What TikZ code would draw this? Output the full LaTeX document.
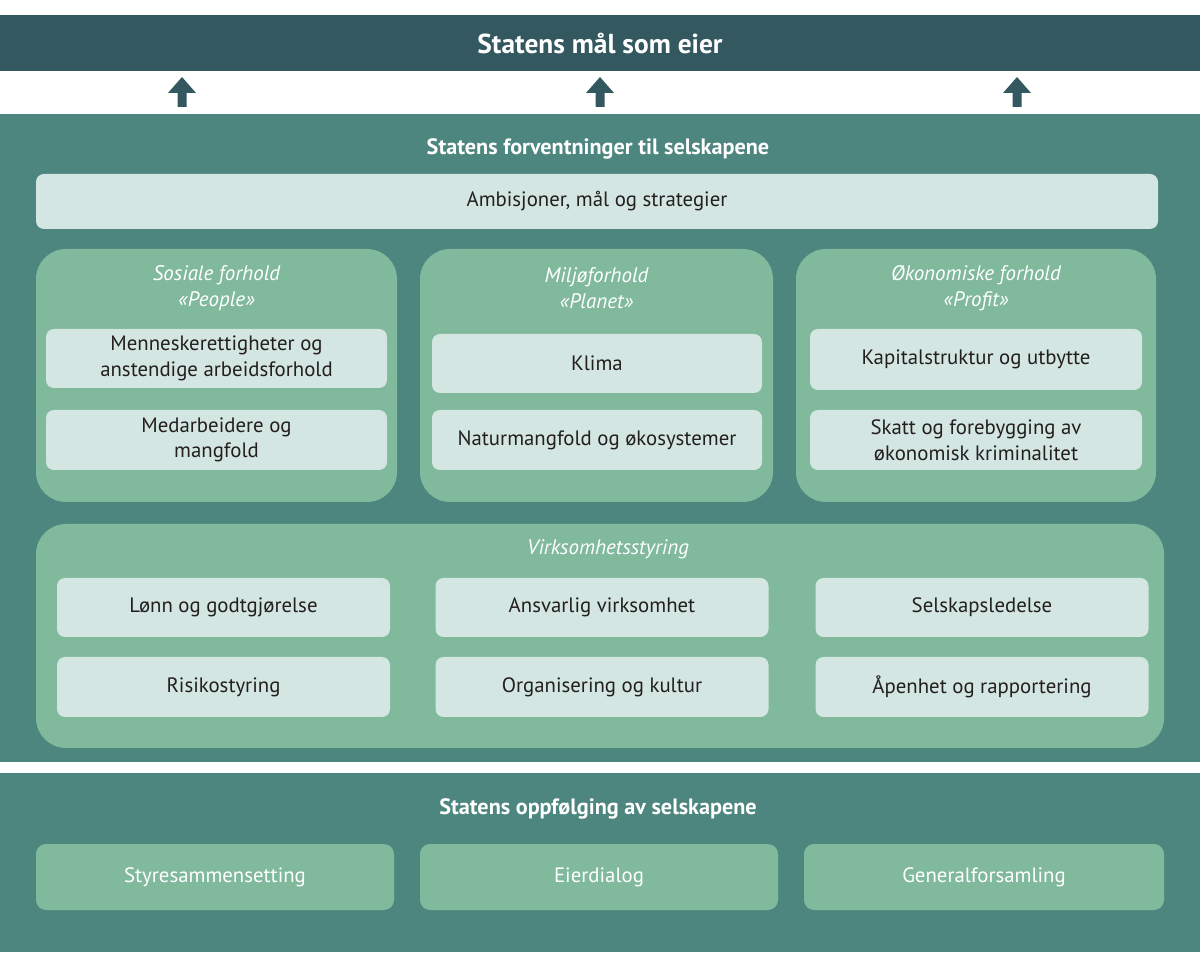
\documentclass[tikz,border=0pt]{standalone}
\usepackage{fontspec}
\setmainfont{PT Sans}

\newlength{\du}
\setlength{\du}{0.5pt}

\definecolor{barcolor}{HTML}{33585F}
\definecolor{panelcolor}{HTML}{4C867F}
\definecolor{greencolor}{HTML}{80B99C}
\definecolor{palecolor}{HTML}{D4E6E1}
\definecolor{inkcolor}{HTML}{231F20}

\tikzset{
  bodytext/.style={font=\fontsize{10.4}{12.8}\selectfont},
  panel/.style={fill=panelcolor, inner sep=0pt},
  palebox/.style={bodytext, fill=palecolor, text=inkcolor, rounded corners=8\du, align=center, inner sep=0pt},
  groupbox/.style={fill=greencolor, rounded corners=30\du, inner sep=0pt},
  followbox/.style={bodytext, fill=greencolor, text=white, rounded corners=10\du, align=center, inner sep=0pt},
  heading/.style={font=\fontsize{11.1}{13}\selectfont\bfseries, text=white},
  grouptitle/.style={font=\fontsize{10.5}{13}\selectfont\itshape, text=white, align=center, inner sep=0pt},
}

\begin{document}
\begin{tikzpicture}[yscale=-1]
\useasboundingbox (0,0) rectangle (1200\du,967\du);
\fill[white] (0,0) rectangle (1200\du,967\du);

% top bar and arrows
\node[fill=barcolor, text=white, font=\fontsize{13.7}{16}\selectfont\bfseries, minimum width=1200\du, minimum height=55\du, inner sep=0pt] (maal) at (600\du,43.5\du) {Statens mål som eier};
\fill[barcolor] (0,15\du) rectangle (1200\du,20\du);
\foreach \x in {182,600,1017}
  \fill[barcolor] ({\x\du-14\du},93\du) -- (\x\du,77\du) -- ({\x\du+14\du},93\du) -- ({\x\du+4.5\du},93\du) -- ({\x\du+4.5\du},107\du) -- ({\x\du-4.5\du},107\du) -- ({\x\du-4.5\du},93\du) -- cycle;

% expectations
\node[panel, minimum width=1200\du, minimum height=648\du] (forventninger) at (600\du,438\du) {};
\node[heading] (forvtittel) at (598\du,149\du) {Statens forventninger til selskapene};
\node[palebox, minimum width=1122\du, minimum height=55\du] (ambisjoner) at (597\du,201.5\du) {Ambisjoner, mål og strategier};

% people
\node[groupbox, minimum width=361\du, minimum height=253\du] (sosiale) at (216.5\du,375.5\du) {};
\node[grouptitle] (sosialetittel) at (216.5\du,288\du) {Sosiale forhold\\«People»};
\node[palebox, minimum width=341\du, minimum height=59\du] (menneske) at (216.5\du,358.5\du) {Menneskerettigheter og\\anstendige arbeidsforhold};
\node[palebox, minimum width=341\du, minimum height=60\du] (medarbeidere) at (216.5\du,440\du) {Medarbeidere og\\mangfold};

% planet
\node[groupbox, minimum width=353\du, minimum height=253\du] (miljo) at (596.5\du,375.5\du) {};
\node[grouptitle] (miljotittel) at (596.5\du,288\du) {Miljøforhold\\«Planet»};
\node[palebox, minimum width=330\du, minimum height=59\du] (klima) at (597\du,363.5\du) {Klima};
\node[palebox, minimum width=330\du, minimum height=60\du] (natur) at (597\du,440\du) {Naturmangfold og økosystemer};

% profit
\node[groupbox, minimum width=360\du, minimum height=253\du] (okonomi) at (976\du,375.5\du) {};
\node[grouptitle] (okonomitittel) at (976\du,288\du) {Økonomiske forhold\\«Profit»};
\node[palebox, minimum width=332\du, minimum height=61\du] (kapital) at (976\du,359.5\du) {Kapitalstruktur og utbytte};
\node[palebox, minimum width=332\du, minimum height=60\du] (skatt) at (976\du,440\du) {Skatt og forebygging av\\økonomisk kriminalitet};

% governance
\node[groupbox, minimum width=1128\du, minimum height=224\du] (styring) at (600\du,636\du) {};
\node[grouptitle] (styringtittel) at (608\du,549\du) {Virksomhetsstyring};
\node[palebox, minimum width=333\du, minimum height=59\du] (lonn) at (223.5\du,607.5\du) {Lønn og godtgjørelse};
\node[palebox, minimum width=333\du, minimum height=59\du] (ansvarlig) at (602\du,607.5\du) {Ansvarlig virksomhet};
\node[palebox, minimum width=333\du, minimum height=59\du] (ledelse) at (982\du,607.5\du) {Selskapsledelse};
\node[palebox, minimum width=333\du, minimum height=60\du] (risiko) at (223.5\du,687\du) {Risikostyring};
\node[palebox, minimum width=333\du, minimum height=60\du] (organisering) at (602\du,687\du) {Organisering og kultur};
\node[palebox, minimum width=333\du, minimum height=60\du] (apenhet) at (982\du,687\du) {Åpenhet og rapportering};

% follow-up
\node[panel, minimum width=1200\du, minimum height=179\du] (oppfolging) at (600\du,862.5\du) {};
\node[heading] (oppftittel) at (598\du,809\du) {Statens oppfølging av selskapene};
\node[followbox, minimum width=358\du, minimum height=66\du] (styre) at (215\du,877\du) {Styresammensetting\strut};
\node[followbox, minimum width=358\du, minimum height=66\du] (dialog) at (599\du,877\du) {Eierdialog\strut};
\node[followbox, minimum width=360\du, minimum height=66\du] (general) at (984\du,877\du) {Generalforsamling\strut};
\end{tikzpicture}
\end{document}
